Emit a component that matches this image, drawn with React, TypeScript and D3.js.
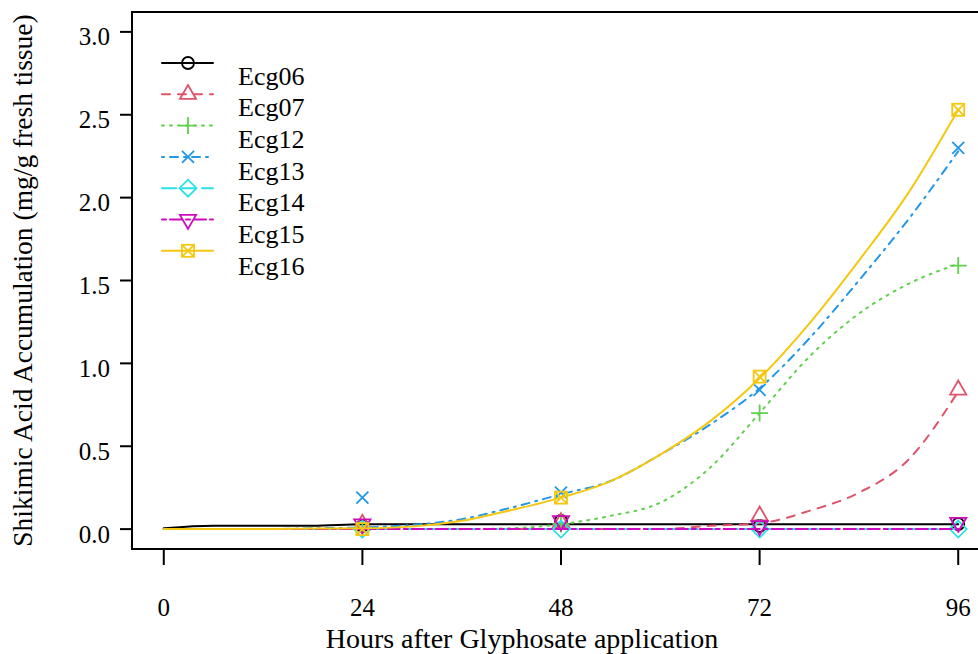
import React, { useEffect, useRef } from 'react';
import * as d3 from 'd3';

// sampling hours for the fitted curves, and the hours of the measured points
const fitHours = [0, 6, 12, 18, 24, 30, 36, 42, 48, 54, 60, 66, 72, 78, 84, 90, 96];
const obsHours = [24, 48, 72, 96];

const lines = ['Ecg06', 'Ecg07', 'Ecg12', 'Ecg13', 'Ecg14', 'Ecg15', 'Ecg16'];

// fitted curves (mg/g fresh tissue)
const fit06 = [0.005, 0.02, 0.02, 0.02, 0.03, 0.03, 0.03, 0.03, 0.03, 0.03, 0.03, 0.03, 0.03, 0.03, 0.03, 0.03, 0.03];
const fit07 = [0, 0, 0, 0, 0, 0, 0, 0, 0, 0, 0, 0.02, 0.035, 0.11, 0.22, 0.42, 0.83];
const fit12 = [0, 0, 0, 0, 0, 0, 0, 0.005, 0.03, 0.08, 0.16, 0.37, 0.7, 1.04, 1.3, 1.48, 1.6];
const fit13 = [0, 0, 0, 0.005, 0.01, 0.025, 0.06, 0.13, 0.21, 0.29, 0.45, 0.63, 0.85, 1.15, 1.5, 1.87, 2.28];
const fit14 = [0, 0, 0, 0, 0, 0, 0, 0, 0, 0, 0, 0, 0, 0, 0, 0, 0];
const fit15 = [0, 0, 0, 0, 0, 0, 0, 0, 0, 0, 0, 0, 0, 0, 0, 0, 0];
const fit16 = [0, 0, 0, 0.003, 0.005, 0.015, 0.05, 0.115, 0.19, 0.29, 0.45, 0.65, 0.91, 1.24, 1.62, 2.03, 2.53];

// measured points at 24, 48, 72, 96 h
const obs06 = [0.02, 0.05, 0.02, 0.03];
const obs07 = [0.03, 0.04, 0.08, 0.84];
const obs12 = [0.0, 0.03, 0.7, 1.59];
const obs13 = [0.19, 0.22, 0.84, 2.3];
const obs14 = [0.0, 0.0, 0.0, 0.0];
const obs15 = [0.03, 0.05, 0.02, 0.04];
const obs16 = [0.0, 0.19, 0.92, 2.53];

const xTicks = [0, 24, 48, 72, 96];
const yTicks = [0, 0.5, 1, 1.5, 2, 2.5, 3];

const fits = [fit06, fit07, fit12, fit13, fit14, fit15, fit16];
const obs = [obs06, obs07, obs12, obs13, obs14, obs15, obs16];
const colors = ['#000000', '#DF536B', '#61D04F', '#2297E6', '#28E2E5', '#CD0BBC', '#F5C710'];
const dashes = [null, '8,8', '2,6', '2,6,8,6', '14,6', '4,4,12,4', null];
const pchs = [1, 2, 3, 4, 5, 6, 7];

const FONT = '"Liberation Serif", "DejaVu Serif", serif';

const drawSymbol = (g, pch, x, y, r, color) => {
  const s = g.append('g').attr('fill', 'none').attr('stroke', color).attr('stroke-width', 1.8);
  const t0 = Math.sqrt((4 * Math.PI) / (3 * Math.sqrt(3)));
  const t1 = (t0 * Math.sqrt(3)) / 2;
  const t2 = t0 / 2;
  if (pch === 1) {
    s.append('circle').attr('cx', x).attr('cy', y).attr('r', r);
  } else if (pch === 2) {
    s.append('path').attr('d', `M${x},${y - r * t0}L${x + r * t1},${y + r * t2}L${x - r * t1},${y + r * t2}Z`);
  } else if (pch === 6) {
    s.append('path').attr('d', `M${x},${y + r * t0}L${x + r * t1},${y - r * t2}L${x - r * t1},${y - r * t2}Z`);
  } else if (pch === 3) {
    const h = r * Math.SQRT2;
    s.append('path').attr('d', `M${x - h},${y}H${x + h}M${x},${y - h}V${y + h}`);
  } else if (pch === 4) {
    s.append('path').attr('d', `M${x - r},${y - r}L${x + r},${y + r}M${x - r},${y + r}L${x + r},${y - r}`);
  } else if (pch === 5) {
    const h = r * Math.SQRT2;
    s.append('path').attr('d', `M${x},${y - h}L${x + h},${y}L${x},${y + h}L${x - h},${y}Z`);
  } else if (pch === 7) {
    s.append('rect').attr('x', x - r).attr('y', y - r).attr('width', 2 * r).attr('height', 2 * r);
    s.append('path').attr('d', `M${x - r},${y - r}L${x + r},${y + r}M${x - r},${y + r}L${x + r},${y - r}`);
  }
};

const App = () => {
  const svgRef = useRef(null);

  useEffect(() => {
    const svg = d3.select(svgRef.current);
    svg.selectAll('*').remove();
    const width = 978;
    const height = 654;
    const box = { left: 132, top: 12, right: 990, bottom: 549 };

    const x = d3.scaleLinear().domain([-3.84, 99.84]).range([box.left, box.right]);
    const y = d3.scaleLinear().domain([-0.12, 3.12]).range([box.bottom, box.top]);

    svg.attr('width', width).attr('height', height);

    // plot frame (right side falls outside the picture)
    svg.append('path')
      .attr('d', `M${box.right},${box.top}H${box.left}V${box.bottom}H${box.right}`)
      .attr('fill', 'none')
      .attr('stroke', '#000')
      .attr('stroke-width', 2);

    // y axis
    const yAxis = svg.append('g');
    yTicks.forEach(v => {
      yAxis.append('line')
        .attr('x1', box.left - 12).attr('x2', box.left)
        .attr('y1', y(v)).attr('y2', y(v))
        .attr('stroke', '#000').attr('stroke-width', 2);
      yAxis.append('text')
        .attr('x', 110)
        .attr('y', y(v) + 5)
        .attr('text-anchor', 'end')
        .attr('dominant-baseline', 'central')
        .style('font-family', FONT)
        .style('font-size', '25px')
        .text(d3.format('.1f')(v));
    });

    // x axis
    const xAxis = svg.append('g');
    xTicks.forEach(v => {
      xAxis.append('line')
        .attr('x1', x(v)).attr('x2', x(v))
        .attr('y1', box.bottom).attr('y2', box.bottom + 16)
        .attr('stroke', '#000').attr('stroke-width', 2);
      xAxis.append('text')
        .attr('x', x(v))
        .attr('y', 607)
        .attr('text-anchor', 'middle')
        .attr('dominant-baseline', 'central')
        .style('font-family', FONT)
        .style('font-size', '25px')
        .text(v);
    });

    svg.append('text')
      .attr('x', 522)
      .attr('y', 638)
      .attr('text-anchor', 'middle')
      .attr('dominant-baseline', 'central')
      .style('font-family', FONT)
      .style('font-size', '28px')
      .text('Hours after Glyphosate application');

    svg.append('text')
      .attr('transform', `translate(22,${(box.top + box.bottom) / 2}) rotate(-90)`)
      .attr('text-anchor', 'middle')
      .attr('dominant-baseline', 'central')
      .style('font-family', FONT)
      .style('font-size', '27.5px')
      .text('Shikimic Acid Accumulation (mg/g fresh tissue)');

    const line = d3.line()
      .x((d, i) => x(fitHours[i]))
      .y(d => y(d))
      .curve(d3.curveMonotoneX);

    const plot = svg.append('g');
    lines.forEach((name, k) => {
      plot.append('path')
        .datum(fits[k])
        .attr('fill', 'none')
        .attr('stroke', colors[k])
        .attr('stroke-width', 2)
        .attr('stroke-linecap', 'round')
        .attr('stroke-dasharray', dashes[k])
        .attr('d', line);
      obs[k].forEach((v, i) => drawSymbol(plot, pchs[k], x(obsHours[i]), y(v), 6, colors[k]));
    });

    // legend
    const legend = svg.append('g');
    lines.forEach((name, k) => {
      const ry = 63 + k * 31.3;
      legend.append('line')
        .attr('x1', 162).attr('x2', 213)
        .attr('y1', ry).attr('y2', ry)
        .attr('stroke', colors[k])
        .attr('stroke-width', 2)
        .attr('stroke-linecap', 'round')
        .attr('stroke-dasharray', dashes[k]);
      drawSymbol(legend, pchs[k], 188, ry, 6, colors[k]);
      legend.append('text')
        .attr('x', 238)
        .attr('y', 76 + k * 31.7)
        .attr('dominant-baseline', 'central')
        .style('font-family', FONT)
        .style('font-size', '26px')
        .text(name);
    });
  }, []);

  return (
    <div style={{ position: 'absolute', left: 0, top: 0 }}>
      <svg ref={svgRef} style={{ display: 'block', background: '#fff' }}></svg>
    </div>
  );
};

export default App;
